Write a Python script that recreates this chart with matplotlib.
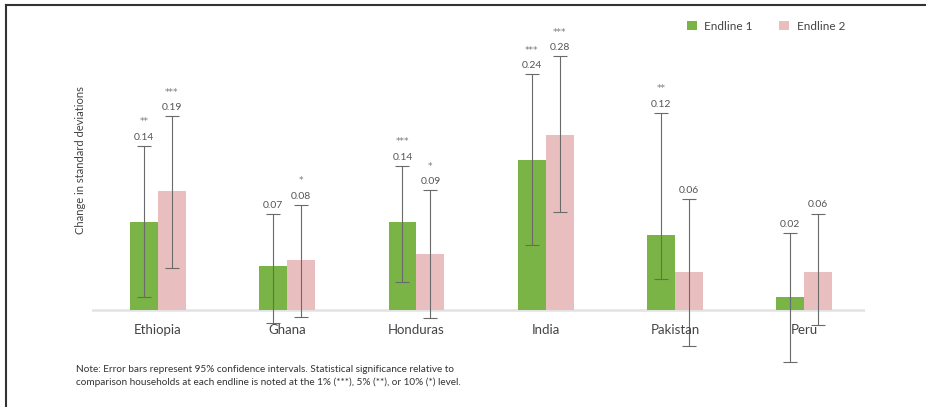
import matplotlib.pyplot as plt
import numpy as np
from matplotlib.lines import Line2D

plt.rcParams["font.family"] = ["Lato", "DejaVu Sans"]

# data
countries = ["Ethiopia", "Ghana", "Honduras", "India", "Pakistan", "Peru"]
endline1 = [0.14, 0.07, 0.14, 0.24, 0.12, 0.02]
endline2 = [0.19, 0.08, 0.09, 0.28, 0.06, 0.06]
e1_low = [0.021, -0.021, 0.045, 0.104, 0.050, -0.083]
e1_high = [0.262, 0.153, 0.230, 0.376, 0.315, 0.123]
e2_low = [0.067, -0.011, -0.012, 0.157, -0.057, -0.024]
e2_high = [0.309, 0.168, 0.191, 0.405, 0.177, 0.154]
stars1 = ["**", "", "***", "***", "**", ""]
stars2 = ["***", "*", "*", "***", "", ""]

green = "#7ab446"
pink = "#e8bfbe"
grey = "#555555"

fig = plt.figure(figsize=(9.26, 4.07), dpi=100)
ax = fig.add_axes([92 / 926, 37 / 407, (865 - 92) / 926, 350 / 407])

x = np.arange(len(countries))
w = 0.216

ax.bar(x - w / 2, endline1, w, color=green, label="Endline 1", zorder=2)
ax.bar(x + w / 2, endline2, w, color=pink, label="Endline 2", zorder=2)

# error bars (95% CI)
for xs, vals, lo, hi, st in [(x - w / 2, endline1, e1_low, e1_high, stars1),
                             (x + w / 2, endline2, e2_low, e2_high, stars2)]:
    vals = np.array(vals)
    yerr = [vals - np.array(lo), np.array(hi) - vals]
    ax.errorbar(xs, vals, yerr=yerr, fmt="none", ecolor="#6a6a6a",
                elinewidth=0.8, capsize=5, capthick=0.8, zorder=3)
    for xi, v, h, s in zip(xs, vals, hi, st):
        ax.annotate(f"{v:.2f}", (xi, h), xytext=(0, 3), textcoords="offset points",
                    ha="center", va="bottom", fontsize=7.5, color=grey)
        if s:
            ax.annotate(s, (xi, h), xytext=(0, 14), textcoords="offset points",
                        ha="center", va="bottom", fontsize=6.5, color="#777777",
                        family="DejaVu Sans")

ax.set_xlim(-0.51, 5.47)
ax.set_ylim(-0.0958, 0.463)
ax.axhline(0, color="#e2e2e2", lw=1.8, zorder=1)

# country labels just under the baseline
ax.set_xticks([])
ax.set_yticks([])
for xi, c in zip(x, countries):
    ax.text(xi, -0.032, c, ha="center", va="center", fontsize=9.5, color="#444444")
for sp in ax.spines.values():
    sp.set_visible(False)
ax.patch.set_alpha(0)

fig.text(80 / 926, 1 - 160 / 407, "Change in standard deviations", rotation=90,
         ha="center", va="center", fontsize=8, color="#444444")

leg = ax.legend(loc="upper left", bbox_to_anchor=(676 / 926, 1 - 10 / 407),
                bbox_transform=fig.transFigure, ncol=2, frameon=False,
                fontsize=8.5, handlelength=0.9, handleheight=0.9,
                columnspacing=2.2, handletextpad=0.6)
for t in leg.get_texts():
    t.set_color("#444444")

fig.text(76 / 926, 1 - 376 / 407,
         "Note: Error bars represent 95% confidence intervals. Statistical significance relative to\n"
         "comparison households at each endline is noted at the 1% (***), 5% (**), or 10% (*) level.",
         ha="left", va="center", fontsize=7.2, color="#333333", linespacing=1.4)

# frame lines
fig.add_artist(Line2D([6 / 926, 6 / 926], [0, 1 - 5 / 407], transform=fig.transFigure,
                      color="#333333", lw=1.5))
fig.add_artist(Line2D([6 / 926, 1], [1 - 5 / 407, 1 - 5 / 407], transform=fig.transFigure,
                      color="#333333", lw=1.5))

fig.savefig("out.png", dpi=100)
plt.close(fig)
